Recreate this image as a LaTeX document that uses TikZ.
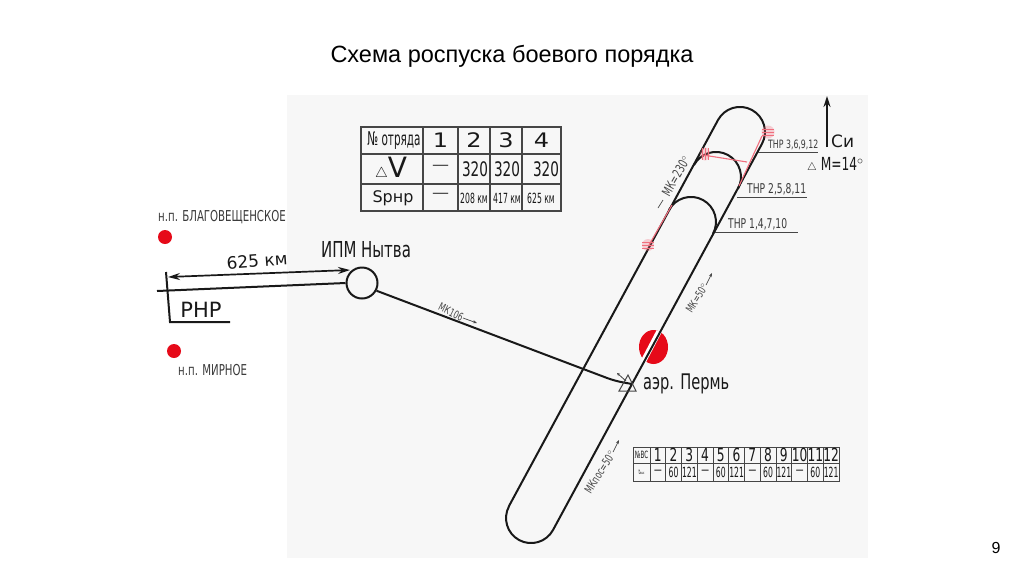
\documentclass[tikz,border=0pt]{standalone}
\usepackage{fontspec}
\setmainfont{Liberation Sans}
\newfontfamily\schemefont{DejaVu Sans}
\newfontfamily\narrowfont[FakeStretch=0.68]{DejaVu Sans}
\newfontfamily\thinfont[FakeStretch=0.55]{DejaVu Sans}
\newfontfamily\broadfont[FakeStretch=1.2]{DejaVu Sans}
\usetikzlibrary{arrows.meta, positioning, calc}
\definecolor{myred}{RGB}{230,10,25}
\definecolor{myhatch}{RGB}{240,110,125}
\definecolor{mydark}{RGB}{25,25,25}
\definecolor{mygrid}{RGB}{70,70,70}
\definecolor{mypaper}{RGB}{247,247,247}
\tikzset{
  track/.style={line width=2pt, color=mydark},
  thin line/.style={line width=1pt, color=mygrid},
  hatch/.style={line width=1.1pt, color=myhatch},
  blob/.style={fill=myhatch, opacity=0.3},
  narrowlabel/.style={font=\narrowfont\fontsize{13.5}{13.5}\selectfont, color=mydark!85, inner sep=0pt},
  courselabel/.style={font=\narrowfont\fontsize{11}{11}\selectfont, color=mygrid, inner sep=0pt},
  biglabel/.style={font=\schemefont\fontsize{16}{16}\selectfont, color=mydark, inner sep=0pt},
  cell/.style={font=\narrowfont\fontsize{18}{18}\selectfont, color=mydark, inner sep=0pt},
  widecell/.style={font=\broadfont\fontsize{20}{20}\selectfont, color=mydark, inner sep=0pt},
  tinycell/.style={font=\thinfont\fontsize{14}{14}\selectfont, color=mydark, inner sep=0pt},
  courseptr/.style={-{Stealth[length=4pt,width=3pt]}, line width=0.7pt, color=mygrid}
}
\begin{document}
\begin{tikzpicture}[x=1pt,y=-1pt]
  \useasboundingbox (0,0) rectangle (1024,574);
  \fill[white] (0,0) rectangle (1024,574);
  \fill[mypaper] (287,95) rectangle (868,558);

  % title and page number
  \node[font=\fontsize{23.5}{23.5}\selectfont, inner sep=0pt] (title) at (512,56) {Схема роспуска боевого порядка};
  \node[font=\fontsize{16}{16}\selectfont, inner sep=0pt] (pagenum) at (996,548) {9};

  % aerodrome mark goes under the track
  \fill[myred] (653.5,347) ellipse [x radius=14.5, y radius=17];
  \draw[white, line width=5.5pt] (659,331.5) -- (643,362);

  % the track with its three turns
  \coordinate (topl) at (718,120);
  \coordinate (topr) at (762,144);
  \coordinate (botl) at (509,506);
  \coordinate (botr) at (553,530);
  \draw[track] (botl) -- (topl) arc[start angle=208.5, end angle=388.5, radius=25] -- (botr)
    arc[start angle=28.5, end angle=208.5, radius=25];
  \draw[track] (694,165) arc[start angle=208.5, end angle=388.5, radius=25];
  \draw[track] (669,210) arc[start angle=208.5, end angle=388.5, radius=25];

  % red pencil marks
  \draw[hatch] (649,245) -- (672,205);
  \draw[hatch] (762,136) -- (739,186);
  \draw[hatch] (703,155) -- (747,162);
  \fill[blob] (648,245) circle [radius=6];
  \fill[blob] (768,132) circle [radius=6.5];
  \fill[blob] (705,154) ellipse [x radius=5, y radius=6.5];
  \foreach \k in {-3,0,3} {
    \draw[hatch, line width=0.8pt] (642,245+\k) -- (654,245+\k);
    \draw[hatch, line width=0.8pt] (762,132+\k) -- (774,132+\k);
    \draw[hatch, line width=0.8pt] (705+\k,148) -- (705+\k,160);
  }

  % exit lines with their labels
  \draw[thin line] (758,152) -- (818,152);
  \draw[thin line] (737,197) -- (807,197);
  \draw[thin line] (715,232) -- (798,232);
  \node[narrowlabel, font=\narrowfont\fontsize{11.5}{11.5}\selectfont, anchor=south west] (thr3) at (768,150) {ТНР 3,6,9,12};
  \node[narrowlabel, anchor=south west] (thr2) at (747,195) {ТНР 2,5,8,11};
  \node[narrowlabel, anchor=south west] (thr1) at (728,230) {ТНР 1,4,7,10};

  % course labels
  \node[courselabel, rotate=60, font=\narrowfont\fontsize{13}{13}\selectfont] (mk230) at (676,176) {МК=230$^{\circ}$};
  \draw[mygrid, line width=0.7pt] (658,208) -- (663,200);
  \node[courselabel, rotate=58] (mk50) at (697,298) {МК=50$^{\circ}$};
  \draw[courseptr] (706,285) -- (712,273);
  \node[courselabel, rotate=58, font=\narrowfont\fontsize{11.5}{11.5}\selectfont] (mkpos) at (600,472) {МКпос=50$^{\circ}$};
  \draw[courseptr] (613,452) -- (619,440);
  \node[courselabel, rotate=-26] (mk106) at (451,312) {МК106};
  \draw[courseptr] (463,318) -- (477,323);

  % compass note
  \draw[-{Stealth[length=11pt,width=7pt]}, line width=1.5pt, color=mydark] (827,147) -- (827,96);
  \node[biglabel, anchor=west, font=\schemefont\fontsize{17}{17}\selectfont] (north) at (831,141) {Си};
  \node[biglabel, anchor=west, font=\narrowfont\fontsize{18}{18}\selectfont] (decl) at (807,165) {{\fontsize{11}{11}\selectfont$\triangle$} М=14$^{\circ}$};

  % start point and the line from it
  \node[circle, draw=mydark, line width=2pt, fill=mypaper, minimum size=31pt, inner sep=0pt] (ipm) at (362,283) {};
  \node[biglabel, font=\narrowfont\fontsize{22}{22}\selectfont] (ipmname) at (366,250) {ИПМ Нытва};
  \coordinate (rnrleft) at (157,291);
  \coordinate (rnrtop) at (166,272);
  \coordinate (rnrfoot) at (170,322);
  \coordinate (rnrend) at (230,322);
  \coordinate (turn) at (615,381);
  \coordinate (aer) at (632,384);
  \draw[track] (rnrleft) -- (ipm.west);
  \draw[track] (rnrtop) -- (rnrfoot) -- (rnrend);
  \draw[{Stealth[length=12pt,width=7pt]}-{Stealth[length=12pt,width=7pt]}, line width=1.7pt, color=mydark] (168,277) -- (350,270);
  \node[biglabel, rotate=4, font=\schemefont\fontsize{17}{17}\selectfont] (dist) at (257,261) {625 км};
  \node[biglabel, font=\schemefont\fontsize{21}{21}\selectfont] (rnr) at (201,310) {РНР};
  \draw[track, rounded corners=8pt] (ipm.-28) -- (turn) -- (aer);

  % settlements
  \node[circle, fill=myred, minimum size=14pt, inner sep=0pt] (blag) at (165,237) {};
  \node[circle, fill=myred, minimum size=14pt, inner sep=0pt] (mirn) at (174,351) {};
  \node[narrowlabel, font=\narrowfont\fontsize{15}{15}\selectfont, anchor=west] (blagname) at (158,217) {н.п. БЛАГОВЕЩЕНСКОЕ};
  \node[narrowlabel, font=\narrowfont\fontsize{15}{15}\selectfont, anchor=west] (mirnname) at (178,370) {н.п. МИРНОЕ};

  % aerodrome
  \draw[mygrid, line width=1pt] (619,391) -- (636,391) -- (628,375) -- cycle;
  \draw[mygrid, line width=0.8pt, -{Stealth[length=3pt,width=3pt]}] (626,381) -- (617,373);
  \node[biglabel, font=\narrowfont\fontsize{21.5}{21.5}\selectfont, anchor=west] (aername) at (643,384) {аэр. Пермь};

  % table of groups
  \draw[mygrid, line width=1.2pt] (361,127) rectangle (561,211);
  \foreach \y in {154,184} \draw[mygrid, line width=1.2pt] (361,\y) -- (561,\y);
  \foreach \x in {423,458,490,522} \draw[mygrid, line width=1.2pt] (\x,127) -- (\x,211);
  \node[tinycell, font=\thinfont\fontsize{19}{19}\selectfont] (tabhead) at (394,140.5) {№ отряда};
  \foreach \t/\cx [count=\i] in {1/440.5,2/474,3/506,4/541.5} {
    \node[widecell] (tabno\i) at (\cx,140.5) {\t};
  }
  \node[widecell, font=\schemefont\fontsize{28}{28}\selectfont] (tabdv) at (391,169) {{\fontsize{14}{14}\selectfont$\triangle$}V};
  \node[biglabel] (tabs) at (393,198) {Sрнр};
  \node[widecell, color=mygrid, font=\schemefont\fontsize{17}{17}\selectfont] (dash1) at (440.5,168) {—};
  \node[widecell, color=mygrid, font=\schemefont\fontsize{17}{17}\selectfont] (dash2) at (440.5,196) {—};
  \node[cell, font=\narrowfont\fontsize{20}{20}\selectfont] (tabv2) at (475,169) {320};
  \node[cell, font=\narrowfont\fontsize{20}{20}\selectfont] (tabv3) at (507,169) {320};
  \node[cell, font=\narrowfont\fontsize{20}{20}\selectfont] (tabv4) at (546,169) {320};
  \node[tinycell] (tabs2) at (474,198) {208 км};
  \node[tinycell] (tabs3) at (507,198) {417 км};
  \node[tinycell] (tabs4) at (541,198) {625 км};

  % table of aircraft
  \draw[mygrid, line width=0.9pt] (633,447) rectangle (839,481);
  \draw[mygrid, line width=0.9pt] (633,463) -- (839,463);
  \draw[mygrid, line width=0.9pt] (650,447) -- (650,481);
  \node[tinycell, font=\thinfont\fontsize{10}{10}\selectfont] (acrhead) at (641.5,455) {№ВС};
  \node[tinycell, font=\thinfont\fontsize{7}{7}\selectfont] (acrtime) at (641.5,472) {t{\fontsize{4}{4}\selectfont вых}};
  \foreach \t/\v [count=\i] in {1/—,2/60,3/121,4/—,5/60,6/121,7/—,8/60,9/121,10/—,11/60,12/121} {
    \pgfmathsetmacro{\cx}{650+15.75*\i}
    \pgfmathsetmacro{\mx}{\cx-7.875}
    \draw[mygrid, line width=0.9pt] (\cx,447) -- (\cx,481);
    \node[cell] (acrno\i) at (\mx,455) {\t};
    \node[tinycell] (acrt\i) at (\mx,472) {\v};
  }
\end{tikzpicture}
\end{document}
